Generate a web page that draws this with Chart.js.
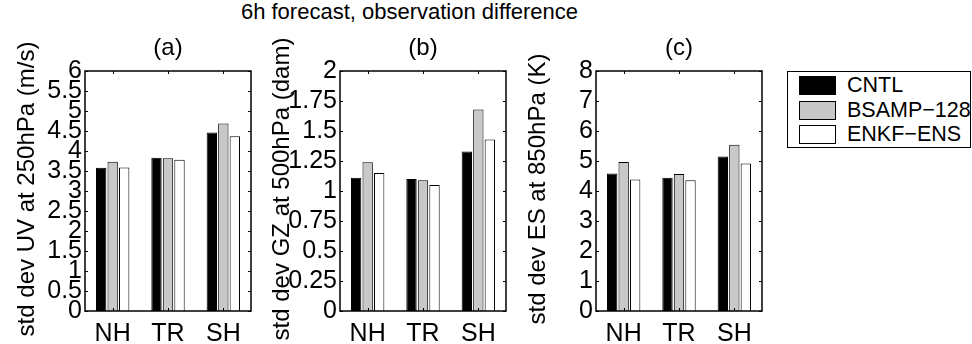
<!DOCTYPE html>
<html>
<head>
<meta charset="utf-8">
<script src="https://cdn.jsdelivr.net/npm/chart.js@4.4.1/dist/chart.umd.min.js"></script>
<style>
  body { margin: 0; background: #fff; width: 972px; height: 344px; overflow: hidden; position: relative; font-family: "Liberation Sans", Arial, sans-serif; }
  .panel { position: absolute; top: 0; }
  #mainTitle { position: absolute; left: 0; top: 1px; width: 819px; text-align: center; font-size: 22px; line-height: 22px; color: #000; }
  #legendBox { position: absolute; left: 787px; top: 71px; width: 182px; height: 75px; border: 1.5px solid #000; }
  .legItem { position: absolute; left: 11px; height: 18px; width: 37px; }
  .legSwatch { position: absolute; left: 0; top: 0; width: 35px; height: 17px; border: 1px solid #000; }
  .legText { position: absolute; left: 48px; top: -3px; font-size: 21.5px; line-height: 24px; white-space: nowrap; }
</style>
</head>
<body>
<div id="mainTitle">6h forecast, observation difference</div>
<div class="panel" style="left:0px"><canvas id="chartA" width="255" height="344"></canvas></div>
<div class="panel" style="left:255px"><canvas id="chartB" width="255" height="344"></canvas></div>
<div class="panel" style="left:511px"><canvas id="chartC" width="255" height="344"></canvas></div>
<div id="legendBox"></div>
<script>
// regions on the x axis
const categories = ["NH", "TR", "SH"];
const seriesNames = ["CNTL", "BSAMP\u2212128", "ENKF\u2212ENS"];
const seriesColors = ["#000000", "#c8c8c8", "#ffffff"];

// (a) UV at 250hPa (m/s)
const uvCntl = [3.58, 3.83, 4.46];
const uvBsamp = [3.73, 3.82, 4.69];
const uvEnkf = [3.59, 3.78, 4.37];
const uvTicks = [0, 0.5, 1, 1.5, 2, 2.5, 3, 3.5, 4, 4.5, 5, 5.5, 6];

// (b) GZ at 500hPa (dam)
const gzCntl = [1.11, 1.10, 1.33];
const gzBsamp = [1.24, 1.09, 1.68];
const gzEnkf = [1.15, 1.05, 1.43];
const gzTicks = [0, 0.25, 0.5, 0.75, 1, 1.25, 1.5, 1.75, 2];

// (c) ES at 850hPa (K)
const esCntl = [4.58, 4.44, 5.15];
const esBsamp = [4.97, 4.57, 5.54];
const esEnkf = [4.38, 4.36, 4.92];
const esTicks = [0, 1, 2, 3, 4, 5, 6, 7, 8];

const FONT = "'Liberation Sans', Arial, sans-serif";

// draws the matlab style box with inward ticks, and the long y label
const boxPlugin = {
  id: "boxAxes",
  afterDraw(chart, args, opts) {
    const ctx = chart.ctx;
    const area = chart.chartArea;
    const yScale = chart.scales.y;
    const xScale = chart.scales.x;
    ctx.save();
    ctx.strokeStyle = "#000";
    ctx.lineWidth = 1.5;
    ctx.strokeRect(area.left, area.top, area.right - area.left, area.bottom - area.top);
    ctx.lineWidth = 1;
    ctx.beginPath();
    yScale.ticks.forEach((t) => {
      let py = Math.round(yScale.getPixelForValue(t.value)) + 0.5;
      ctx.moveTo(area.left, py); ctx.lineTo(area.left + 3, py);
      ctx.moveTo(area.right, py); ctx.lineTo(area.right - 3, py);
    });
    categories.forEach((c, i) => {
      let px = Math.round(xScale.getPixelForValue(i)) + 0.5;
      ctx.moveTo(px, area.top); ctx.lineTo(px, area.top + 3);
      ctx.moveTo(px, area.bottom); ctx.lineTo(px, area.bottom - 3);
    });
    ctx.stroke();

    ctx.fillStyle = "#000";
    ctx.font = "24px " + FONT;
    ctx.textAlign = "center";
    ctx.textBaseline = "middle";
    ctx.translate(area.left - 58, (area.top + area.bottom) / 2 - 2);
    ctx.rotate(-Math.PI / 2);
    ctx.fillText(opts.ylabel, 0, 0);
    ctx.restore();
  },
};

function makePanel(canvasId, subtitle, ylabel, yTicks, cntl, bsamp, enkf) {
  const allData = [cntl, bsamp, enkf];
  const datasets = allData.map((d, i) => ({
    label: seriesNames[i],
    data: d,
    backgroundColor: seriesColors[i],
    borderColor: "#000",
    borderWidth: 1,
    categoryPercentage: 0.624,
    barPercentage: 0.9,
  }));

  return new Chart(document.getElementById(canvasId), {
    type: "bar",
    data: { labels: categories, datasets: datasets },
    plugins: [boxPlugin],
    options: {
      responsive: false,
      animation: false,
      layout: { padding: { left: 0, right: 4, top: 35, bottom: 0 } },
      scales: {
        x: {
          grid: { display: false, drawTicks: false },
          border: { display: false },
          ticks: { color: "#000", font: { family: FONT, size: 25 }, padding: 8, maxRotation: 0 },
          afterFit: (s) => { s.height = 33; },
        },
        y: {
          min: yTicks[0],
          max: yTicks[yTicks.length - 1],
          grid: { display: false, drawTicks: false },
          border: { display: false },
          afterBuildTicks: (s) => { s.ticks = yTicks.map((v) => ({ value: v })); },
          ticks: {
            autoSkip: false,
            color: "#000",
            font: { family: FONT, size: 25 },
            padding: 3,
            callback: (v) => String(v),
          },
          afterFit: (s) => { s.width = 85; },
        },
      },
      plugins: {
        legend: { display: false },
        tooltip: { enabled: false },
        title: {
          display: true,
          text: subtitle,
          fullSize: false,
          color: "#000",
          font: { family: FONT, size: 24, weight: "normal", lineHeight: 1.1 },
          padding: { top: 0, bottom: 9.6 },
        },
        boxAxes: { ylabel: ylabel },
      },
    },
  });
}

makePanel("chartA", "(a)", "std dev UV at 250hPa (m/s)", uvTicks, uvCntl, uvBsamp, uvEnkf);
makePanel("chartB", "(b)", "std dev GZ at 500hPa (dam)", gzTicks, gzCntl, gzBsamp, gzEnkf);
makePanel("chartC", "(c)", "std dev ES at 850hPa (K)", esTicks, esCntl, esBsamp, esEnkf);

// legend built from the same series names and colours
const legendBox = document.getElementById("legendBox");
const rowTops = [4, 29, 53];
seriesNames.forEach((name, i) => {
  const item = document.createElement("div");
  item.className = "legItem";
  item.style.top = rowTops[i] + "px";
  const sw = document.createElement("div");
  sw.className = "legSwatch";
  sw.style.background = seriesColors[i];
  const tx = document.createElement("div");
  tx.className = "legText";
  tx.textContent = name;
  item.appendChild(sw);
  item.appendChild(tx);
  legendBox.appendChild(item);
});
</script>
</body>
</html>
